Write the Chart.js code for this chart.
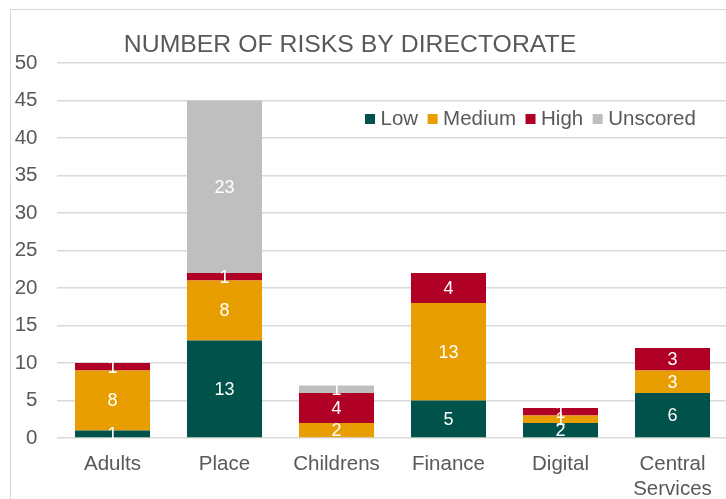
<!DOCTYPE html>
<html>
<head>
<meta charset="utf-8">
<script src="https://cdn.jsdelivr.net/npm/chart.js@4/dist/chart.umd.min.js"></script>
<style>
  html, body { margin: 0; padding: 0; background: #ffffff; overflow: hidden; width: 726px; height: 499px; }
  #frame { position: absolute; left: 10px; top: 9px; width: 800px; height: 600px;
           border-left: 1.5px solid #d9d9d9; border-top: 1.5px solid #d9d9d9; box-sizing: border-box; }
  #wrap { position: absolute; left: 0; top: 0; width: 740px; height: 499px; }
</style>
</head>
<body>
<div id="frame"></div>
<div id="wrap"><canvas id="c" width="740" height="499"></canvas></div>
<script>
const chartTitle = 'NUMBER OF RISKS BY DIRECTORATE';
const categories = ['Adults', 'Place', 'Childrens', 'Finance', 'Digital', ['Central', 'Services']];
const seriesNames = ['Low', 'Medium', 'High', 'Unscored'];
const lowValues = [1, 13, 0, 5, 2, 6];
const mediumValues = [8, 8, 2, 13, 1, 3];
const highValues = [1, 1, 4, 4, 1, 3];
const unscoredValues = [0, 23, 1, 0, 0, 0];
const seriesColors = ['#00524a', '#e89e00', '#b00026', '#bfbfbf'];
const yMin = 0, yMax = 50, yStep = 5;

const TEXT = '#595959';
const FONT = "'Liberation Sans', Arial, sans-serif";

const dataLabelPlugin = {
  id: 'dataLabels',
  afterDatasetsDraw(chart) {
    const ctx = chart.ctx;
    ctx.save();
    ctx.font = '18px ' + FONT;
    ctx.fillStyle = '#ffffff';
    ctx.textAlign = 'center';
    ctx.textBaseline = 'middle';
    chart.data.datasets.forEach((ds, i) => {
      const meta = chart.getDatasetMeta(i);
      meta.data.forEach((bar, j) => {
        const v = ds.data[j];
        if (!v) return;
        const p = bar.getProps(['x', 'y', 'base'], true);
        ctx.fillText(String(v), p.x, (p.y + p.base) / 2 + 1);
      });
    });
    ctx.restore();
  }
};

const titleLegendPlugin = {
  id: 'titleLegend',
  afterDraw(chart) {
    const ctx = chart.ctx;
    ctx.save();
    ctx.fillStyle = TEXT;
    ctx.font = '24.8px ' + FONT;
    ctx.textAlign = 'center';
    ctx.textBaseline = 'middle';
    ctx.fillText(chartTitle, 350, 45);
    // legend
    ctx.font = '20.5px ' + FONT;
    ctx.textAlign = 'left';
    let x = 365;
    const yc = 119;
    chart.data.datasets.forEach((ds) => {
      ctx.fillStyle = ds.backgroundColor;
      ctx.fillRect(x, yc - 5, 10, 10);
      ctx.fillStyle = TEXT;
      ctx.fillText(ds.label, x + 15.5, yc);
      x += 15.5 + ctx.measureText(ds.label).width + 9.5;
    });
    ctx.restore();
  }
};

const valueSets = [lowValues, mediumValues, highValues, unscoredValues];
new Chart(document.getElementById('c'), {
  type: 'bar',
  data: {
    labels: categories,
    datasets: seriesNames.map((name, i) => ({
      label: name,
      data: valueSets[i],
      backgroundColor: seriesColors[i],
      borderWidth: 0,
      barPercentage: 0.67,
      categoryPercentage: 1.0
    }))
  },
  options: {
    responsive: false,
    animation: false,
    devicePixelRatio: 1,
    layout: { padding: { top: 63, left: 0, right: 11.5, bottom: 0 } },
    plugins: {
      legend: { display: false },
      title: { display: false },
      tooltip: { enabled: false }
    },
    scales: {
      x: {
        stacked: true,
        grid: { display: false },
        border: { display: false },
        ticks: {
          color: TEXT,
          font: { family: FONT, size: 20.5, lineHeight: 1.2 },
          padding: 6.5,
          maxRotation: 0,
          autoSkip: false
        },
        afterFit(scale) { scale.height = 61; }
      },
      y: {
        stacked: true,
        min: yMin,
        max: yMax,
        grid: { color: '#d9d9d9', lineWidth: 1.5, drawTicks: false },
        border: { display: false },
        ticks: {
          stepSize: yStep,
          color: TEXT,
          font: { family: FONT, size: 20.5 },
          padding: 19
        },
        afterFit(scale) { scale.width = 56.5; }
      }
    }
  },
  plugins: [dataLabelPlugin, titleLegendPlugin]
});
</script>
</body>
</html>
